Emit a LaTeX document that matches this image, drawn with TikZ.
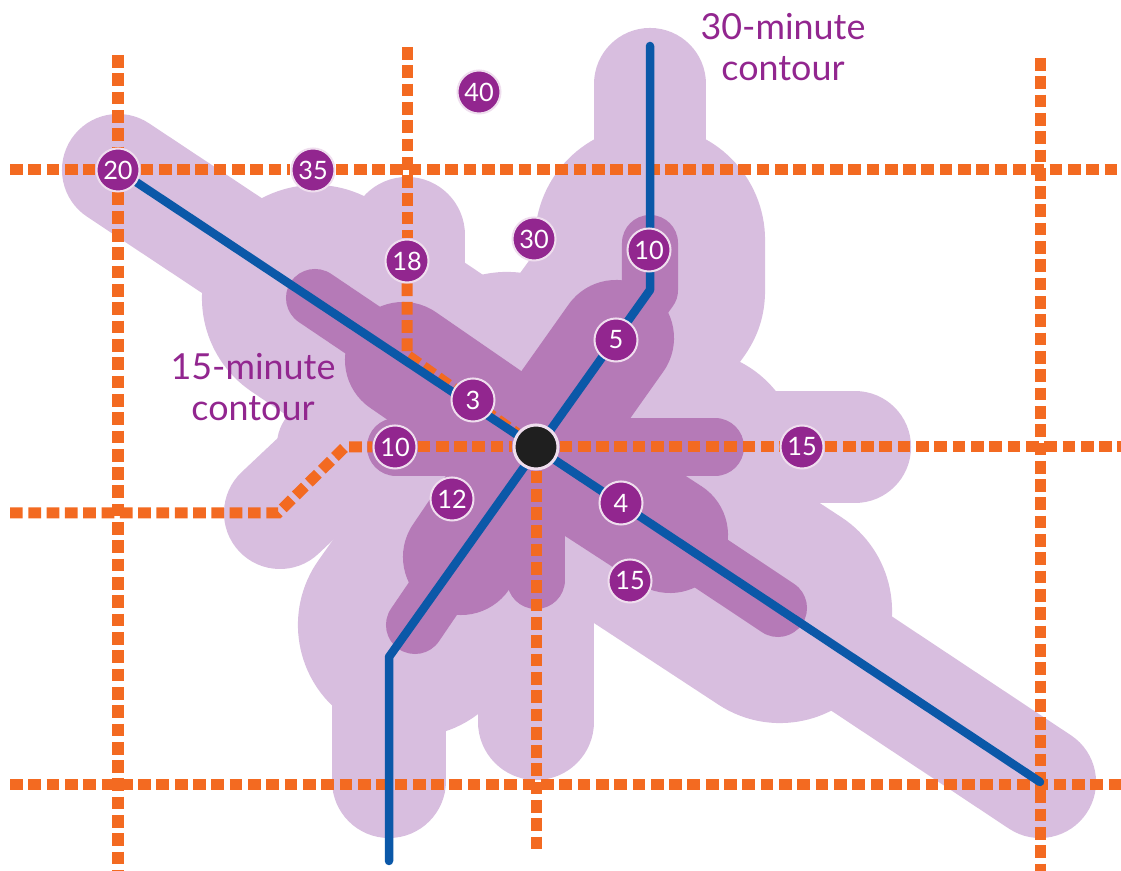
\documentclass[tikz,border=0pt]{standalone}
\usepackage{fontspec}
\setmainfont{Lato}
\definecolor{mapblue}{RGB}{11,88,168}
\definecolor{maporange}{RGB}{243,106,33}
\definecolor{mappurple}{RGB}{146,38,143}
\definecolor{maplight}{RGB}{216,190,223}
\definecolor{mapdark}{RGB}{181,122,183}
\usetikzlibrary{backgrounds}
\tikzset{
  stop/.style={circle, draw=white!85!mappurple, line width=0.02cm, fill=mappurple, text=white,
               minimum size=0.43cm, inner sep=0pt, font=\fontsize{7.2}{8}\selectfont},
  hub/.style={circle, draw=white!85!mappurple, line width=0.03cm, fill=black!88, minimum size=0.44cm, inner sep=0pt},
  contourlabel/.style={text=mappurple, align=center, font=\fontsize{10.2}{11.6}\selectfont},
  road/.style={draw=maporange, line width=0.11cm, dash pattern=on 0.127cm off 0.056cm},
  railline/.style={draw=mapblue, line width=0.085cm, line cap=round, line join=round},
  light/.style={draw=maplight, line width=#1, line cap=round, line join=round},
  dark/.style={draw=mapdark, line width=#1, line cap=round, line join=round}
}
\begin{document}
\begin{tikzpicture}[x=0.01cm, y=-0.01cm]
  \useasboundingbox (0,0) rectangle (1121,871);
  % stops
  \node[hub] (hub) at (536,447) {};
  \foreach \name/\px/\py/\mins in {a/118/170/20, b/313/170/35, c/479/92/40, d/407/261/18, e/534/239/30,
      f/649/250/10, g/616/340/5, h/473/400/3, i/395/447/10, j/452/499/12, k/621/503/4, l/630/581/15, m/802/447/15} {
    \node[stop] (stop\name) at (\px,\py) {\mins};
  }
  \node[contourlabel] (label15) at (253,387) {15-minute\\contour};
  \node[contourlabel] (label30) at (783,47) {30-minute\\contour};
  % free ends
  \coordinate (topend) at (650,46);
  \coordinate (kinkne) at (650,290);
  \coordinate (kinksw) at (389,657);
  \coordinate (bottomend) at (389,861);
  \coordinate (lineend) at (1040,782);
  \begin{pgfonlayer}{background}
    % 30-minute contour
    \draw[light=1.12cm] (118,170) -- (1040,782);
    \draw[light=1.12cm] (650,84) -- (650,250);
    \draw[light=2.3cm] (650,240) -- (650,290) -- (536,447);
    \draw[light=2.26cm] (315,298) -- (536,447);
    \draw[light=2.26cm] (507,385) -- (536,447);
    \draw[light=2.2cm] (690,460) -- (536,447);
    \draw[light=1.16cm] (407,235) -- (407,300);
    \draw[light=1.12cm] (855,447) -- (536,447);
    \draw[light=2.24cm] (536,451) -- (780,611);
    \draw[light=1.12cm] (280,513) -- (350,447) -- (536,447);
    \draw[light=0.9cm] (322,445) -- (350,447);
    \draw[light=2.24cm] (410,625) -- (536,447);
    \draw[light=1.14cm] (389,781) -- (389,657);
    \draw[light=1.16cm] (536,722) -- (536,447);
    % 15-minute contour
    \draw[dark=0.58cm] (315,298) -- (536,447);
    \draw[dark=1.16cm] (403,360) -- (490,420);
    \draw[dark=0.56cm] (650,243) -- (650,290) -- (536,447);
    \draw[dark=1.16cm] (616,338) -- (565,410);
    \draw[dark=0.58cm] (396,447) -- (715,447);
    \draw[dark=0.58cm] (536,447) -- (778,608);
    \draw[dark=1.16cm] (570,470) -- (670,535);
    \draw[dark=0.58cm] (415,625) -- (536,447);
    \draw[dark=1.16cm] (461,557) -- (520,470);
    \draw[dark=0.58cm] (536,447) -- (536,580);
    % roads
    \draw[road] (10,170) -- (stopa);
    \draw[road] (stopa) -- (stopb);
    \draw[road] (stopb) -- (1121,170);
    \draw[road] (118,55) -- (stopa);
    \draw[road] (stopa) -- (118,871);
    \draw[road] (407,47) -- (stopd);
    \draw[road] (stopd) -- (407,355) -- (hub);
    \draw[road] (1040,58) -- (1040,871);
    \draw[road] (10,513) -- (278,513) -- (345,447) -- (stopi);
    \draw[road] (stopi) -- (hub);
    \draw[road] (hub) -- (stopm);
    \draw[road] (stopm) -- (1121,447);
    \draw[road] (hub) -- (536,855);
    \draw[road] (10,785) -- (1121,785);
    % rail lines
    \draw[railline] (stopa) -- (lineend);
    \draw[railline] (topend) -- (kinkne) -- (kinksw) -- (bottomend);
  \end{pgfonlayer}
\end{tikzpicture}
\end{document}
